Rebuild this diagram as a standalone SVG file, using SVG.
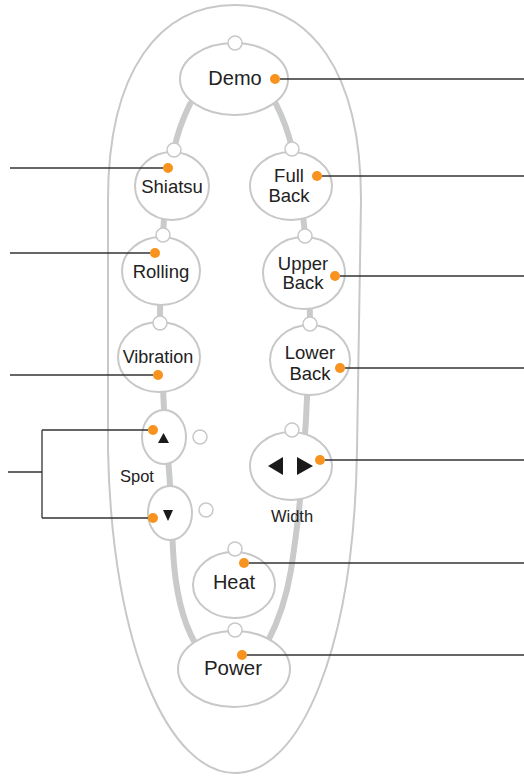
<svg xmlns="http://www.w3.org/2000/svg" width="524" height="776" viewBox="0 0 524 776">
<style>
.btn{fill:#fff;stroke:#c8c8c8;stroke-width:2}
.led{fill:#fff;stroke:#c8c8c8;stroke-width:1.5}
.dot{fill:#f7931e}
.rail{fill:none;stroke:#c9cacb;stroke-width:6;stroke-linecap:round}
.ln{fill:none;stroke:#333;stroke-width:1.3}
.t{font-family:"Liberation Sans",Arial,sans-serif;fill:#222;text-anchor:middle}
.tri{fill:#1a1a1a}
</style>
<rect width="524" height="776" fill="#fff"/>
<path id="body" d="M235,5 C310,5 361,70 361,200 L357,450 C354,650 300,773 235,773 C170,773 112,650 108,450 L108,200 C108,70 160,5 235,5 Z" fill="none" stroke="#c8c8c8" stroke-width="2"/>
<g id="rails">
<path class="rail" d="M190,104 C182,120 177,135 174,150 C168,180 164,210 163,234 C161,265 160,295 160,322 C161,355 163,385 164,410 C166,440 169,465 170,485 C171,510 172,530 173,550 C175,590 182,620 195,643"/>
<path class="rail" d="M276,104 C284,120 289,135 292,148 C298,180 303,210 305,235 C308,265 310,295 310,323 C309,360 307,395 306,420 C304,450 302,475 300,500 C297,530 294,550 291,570 C286,600 278,622 268,641"/>
</g>
<g id="demo"><ellipse class="btn" cx="234" cy="79" rx="54" ry="36"/><circle class="led" cx="235" cy="43" r="7"/><text class="t" x="235" y="85" font-size="20">Demo</text><circle class="dot" cx="275" cy="79" r="5"/></g>
<g id="shiatsu"><ellipse class="btn" cx="172" cy="186" rx="37" ry="34"/><circle class="led" cx="174" cy="150" r="7"/><text class="t" x="172" y="193" font-size="18.5">Shiatsu</text><circle class="dot" cx="168" cy="168" r="5"/></g>
<g id="fullback"><ellipse class="btn" cx="291" cy="186" rx="41" ry="34"/><circle class="led" cx="292" cy="149" r="7"/><text class="t" x="289" y="182" font-size="18.5">Full</text><text class="t" x="289" y="202" font-size="18.5">Back</text><circle class="dot" cx="317" cy="176" r="5"/></g>
<g id="rolling"><ellipse class="btn" cx="161" cy="271" rx="39" ry="34"/><circle class="led" cx="163" cy="235" r="7"/><text class="t" x="161" y="278" font-size="18.5">Rolling</text><circle class="dot" cx="155" cy="253" r="5"/></g>
<g id="upperback"><ellipse class="btn" cx="304" cy="273" rx="41" ry="36"/><circle class="led" cx="305" cy="236" r="7"/><text class="t" x="303" y="270" font-size="18.5">Upper</text><text class="t" x="303" y="289" font-size="18.5">Back</text><circle class="dot" cx="335" cy="276" r="5"/></g>
<g id="vibration"><ellipse class="btn" cx="159" cy="357" rx="41" ry="35"/><circle class="led" cx="160" cy="323" r="7"/><text class="t" x="158" y="363" font-size="18">Vibration</text><circle class="dot" cx="158" cy="375" r="5"/></g>
<g id="lowerback"><ellipse class="btn" cx="310" cy="360" rx="40" ry="35"/><circle class="led" cx="310" cy="324" r="7"/><text class="t" x="310" y="359" font-size="18.5">Lower</text><text class="t" x="310" y="380" font-size="18.5">Back</text><circle class="dot" cx="340" cy="368" r="5"/></g>
<g id="spotup"><ellipse class="btn" cx="164" cy="437" rx="22" ry="27"/><path class="tri" d="M158,443 L163.5,433 L169,443 Z"/><circle class="dot" cx="153" cy="430" r="5"/><circle class="led" cx="200" cy="437" r="7"/></g>
<text id="spot" class="t" x="137" y="482" font-size="16.5">Spot</text>
<g id="spotdown"><ellipse class="btn" cx="170" cy="513" rx="22" ry="27"/><path class="tri" d="M163,510 L173,510 L168,521 Z"/><circle class="dot" cx="153" cy="518" r="5"/><circle class="led" cx="206" cy="510" r="7"/></g>
<g id="widthbtn"><ellipse class="btn" cx="291" cy="466" rx="41" ry="34"/><circle class="led" cx="292" cy="430" r="7"/><path class="tri" d="M283,457 L283,475 L268,466 Z"/><path class="tri" d="M297,457 L313,466 L297,475 Z"/><circle class="dot" cx="320" cy="460" r="5"/></g>
<text id="width" class="t" x="292" y="522" font-size="16.5">Width</text>
<g id="heat"><ellipse class="btn" cx="234" cy="585" rx="41" ry="33"/><circle class="led" cx="235" cy="549" r="7"/><text class="t" x="234" y="589" font-size="20">Heat</text><circle class="dot" cx="244" cy="563" r="5"/></g>
<g id="power"><ellipse class="btn" cx="234" cy="669" rx="56" ry="38"/><circle class="led" cx="235" cy="630" r="7"/><text class="t" x="233" y="675" font-size="20.5">Power</text><circle class="dot" cx="242" cy="655" r="5"/></g>
<g id="connectors">
<path class="ln" d="M280,79 H524"/>
<path class="ln" d="M322,176 H524"/>
<path class="ln" d="M340,276 H524"/>
<path class="ln" d="M345,368 H524"/>
<path class="ln" d="M325,460 H524"/>
<path class="ln" d="M249,563 H524"/>
<path class="ln" d="M247,655 H524"/>
<path class="ln" d="M10,168 H163"/>
<path class="ln" d="M10,253 H150"/>
<path class="ln" d="M10,375 H153"/>
<path class="ln" d="M8,472 H42 M42,430 V518 M42,430 H148 M42,518 H148"/>
</g>
</svg>
